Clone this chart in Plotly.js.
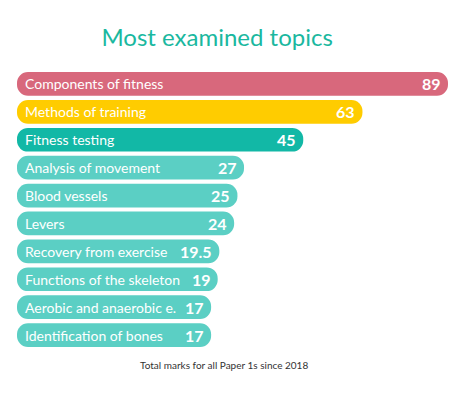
<!DOCTYPE html>
<html><head><meta charset="utf-8">
<script src="https://cdn.plot.ly/plotly-3.0.1.min.js"></script>
<style>html,body{margin:0;padding:0;background:#fff}#chart{width:461px;height:396px}</style>
</head><body><div id="chart"></div>
<script>
const topics = ["Components of fitness","Methods of training","Fitness testing","Analysis of movement","Blood vessels","Levers","Recovery from exercise","Functions of the skeleton","Aerobic and anaerobic e.","Identification of bones"];
const marks = [89,63,45,27,25,24,19.5,19,17,17];
const valueLabels = ["89","63","45","27","25","24","19.5","19","17","17"];
const barColors = ["#D8687C","#FFCC00","#12B8A6","#5BCFC4","#5BCFC4","#5BCFC4","#5BCFC4","#5BCFC4","#5BCFC4","#5BCFC4"];
const titleText = "Most examined topics";
const footerText = "Total marks for all Paper 1s since 2018";

const BASE = -42;
const font = "Lato, 'Open Sans', sans-serif";

const trace = {
  type: "bar", orientation: "h",
  y: topics, x: marks.map(v => v - BASE), base: BASE,
  marker: {color: barColors, cornerradius: "50%"},
  hoverinfo: "skip"
};

const annotations = [];
topics.forEach((t, i) => {
  annotations.push({
    x: BASE, y: t, xref: "x", yref: "y", text: t, showarrow: false,
    xanchor: "left", xshift: 6, font: {family: font, size: 14, color: "#fff"}
  });
  annotations.push({
    x: marks[i], y: t, xref: "x", yref: "y", text: "<b>" + valueLabels[i] + "</b>", showarrow: false,
    xanchor: "right", xshift: -5, font: {family: font, size: 16, color: "#fff"}
  });
});
annotations.push({
  x: 0.48, y: -0.057, xref: "paper", yref: "paper", text: footerText, showarrow: false,
  yanchor: "middle", font: {family: "Lato, sans-serif", size: 10, color: "#333"}
});

const layout = {
  width: 461, height: 396,
  margin: {l: 17, r: 13, t: 70, b: 47},
  paper_bgcolor: "#fff", plot_bgcolor: "#fff",
  title: {text: titleText, x: 0.471, xanchor: "center", y: 0.905, yanchor: "middle",
    font: {family: font, size: 24, color: "#1AB89F"}},
  xaxis: {range: [BASE, 89], visible: false, fixedrange: true},
  yaxis: {autorange: "reversed", visible: false, fixedrange: true},
  bargap: 0.15, showlegend: false, annotations: annotations
};
Plotly.newPlot("chart", [trace], layout, {displayModeBar: false, staticPlot: true});
</script></body></html>
